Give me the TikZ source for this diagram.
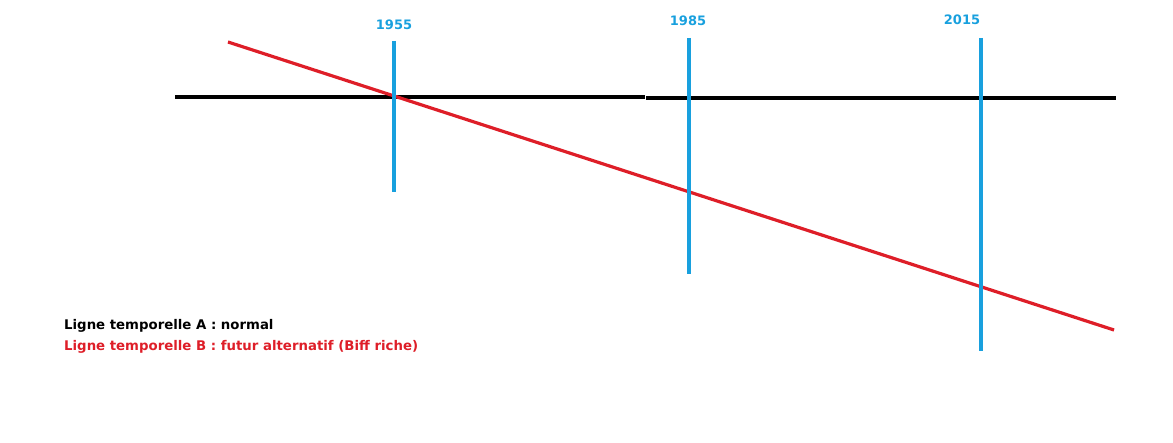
\documentclass[tikz,border=0pt]{standalone}
\usepackage{fontspec}
\setmainfont{DejaVu Sans}
\definecolor{tblue}{RGB}{24,160,222}
\definecolor{tred}{RGB}{222,30,40}
\begin{document}
\begin{tikzpicture}[x=1pt,y=-1pt,
  yearline/.style={draw=tblue,line width=3.2pt},
  yearlabel/.style={text=tblue,font=\bfseries\fontsize{13}{15}\selectfont,inner sep=0pt},
  legend/.style={font=\bfseries\fontsize{13.3}{16}\selectfont,inner sep=0pt,anchor=west}]
\useasboundingbox (0,0) rectangle (1173,443);
% timeline A (black)
\coordinate (a1) at (175,97);
\coordinate (a2) at (645,97);
\coordinate (a3) at (646,98);
\coordinate (a4) at (1116,98);
\draw[black,line width=3.4pt] (a1) -- (a2);
\draw[black,line width=3.4pt] (a3) -- (a4);
% timeline B (red)
\coordinate (b1) at (228,42);
\coordinate (b2) at (1114,330);
\draw[tred,line width=3.2pt] (b1) -- (b2);
% year lines
\coordinate (y1t) at (394,41);
\coordinate (y1b) at (394,192);
\coordinate (y2t) at (689,38);
\coordinate (y2b) at (689,274);
\coordinate (y3t) at (981,38);
\coordinate (y3b) at (981,351);
\draw[yearline] (y1t) -- (y1b);
\draw[yearline] (y2t) -- (y2b);
\draw[yearline] (y3t) -- (y3b);
\node[yearlabel] (l1955) at (394,25) {1955};
\node[yearlabel] (l1985) at (688,21) {1985};
\node[yearlabel] (l2015) at (962,20) {2015};
% legend
\node[legend,text=black] (la) at (64,326) {Ligne temporelle A : normal};
\node[legend,text=tred] (lb) at (64,347) {Ligne temporelle B : futur alternatif (Biff riche)};
\end{tikzpicture}
\end{document}
